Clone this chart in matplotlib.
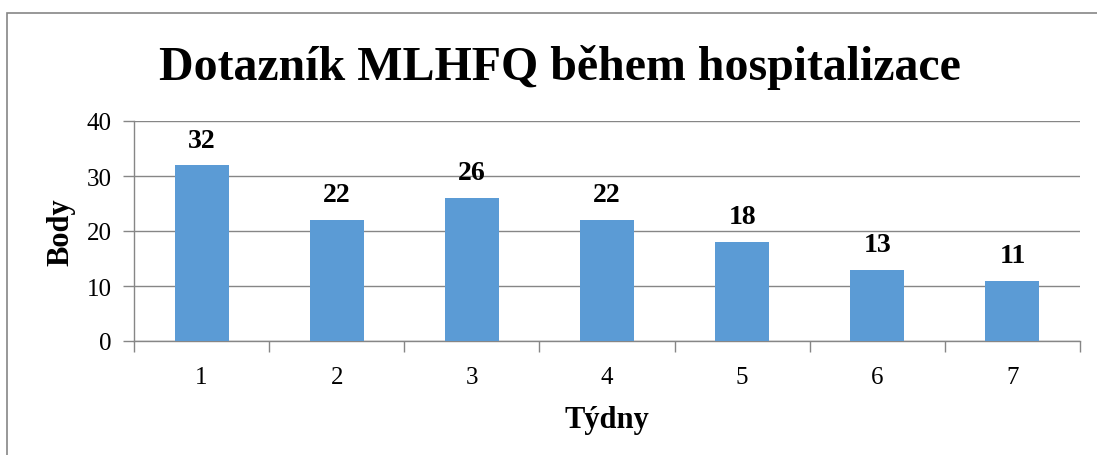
import matplotlib
matplotlib.use("Agg")
import matplotlib.pyplot as plt
from matplotlib.patches import Rectangle
from matplotlib.ticker import FixedLocator

weeks = ["1", "2", "3", "4", "5", "6", "7"]
points = [32, 22, 26, 22, 18, 13, 11]
title = "Dotazník MLHFQ během hospitalizace"
xlabel = "Týdny"
ylabel = "Body"

plt.rcParams['font.family'] = ['Liberation Serif', 'DejaVu Serif']

W, H = 1097, 456
fig = plt.figure(figsize=(W/100, H/100), dpi=100)
ax = fig.add_axes([134/W, 1-342/H, (1080-134)/W, (342-122)/H])

x = list(range(len(weeks)))
ax.bar(x, points, width=0.4, color="#5b9bd5", zorder=3)
ax.set_xlim(-0.5, len(weeks)-0.5)
ax.set_ylim(0, 40)
ax.set_yticks([0, 10, 20, 30, 40])
ax.yaxis.grid(True, color="#868686", linewidth=1.0, zorder=0)
ax.set_xticks(x)
ax.set_xticklabels(weeks, fontsize=18)
ax.xaxis.set_minor_locator(FixedLocator([i - 0.5 for i in range(len(weeks)+1)]))
ax.tick_params(axis='x', which='major', length=0, pad=18)
ax.tick_params(axis='x', which='minor', length=8, color="#868686", width=1.0)
ax.tick_params(axis='y', length=8, color="#868686", width=1.0, labelsize=18, pad=8)
for s in ["top", "right"]:
    ax.spines[s].set_visible(False)
for s in ["left", "bottom"]:
    ax.spines[s].set_color("#868686")
    ax.spines[s].set_linewidth(1.0)

for xi, v in zip(x, points):
    ax.annotate(str(v), (xi, v), xytext=(0, 18), textcoords="offset points",
                ha="center", va="center", fontsize=20, fontweight="bold")

ax.set_xlabel(xlabel, fontsize=22, fontweight="bold", labelpad=12)
ax.set_ylabel(ylabel, fontsize=22, fontweight="bold", labelpad=8)
fig.text(560/W, 1-68/H, title, ha="center", va="center", fontsize=34.5, fontweight="bold")

fig.patches.append(Rectangle((7/W, -0.5), 2, 1.5 - 14/H, transform=fig.transFigure,
                             fill=False, edgecolor="#868686", linewidth=1.2))

fig.savefig("out.png", dpi=100)
